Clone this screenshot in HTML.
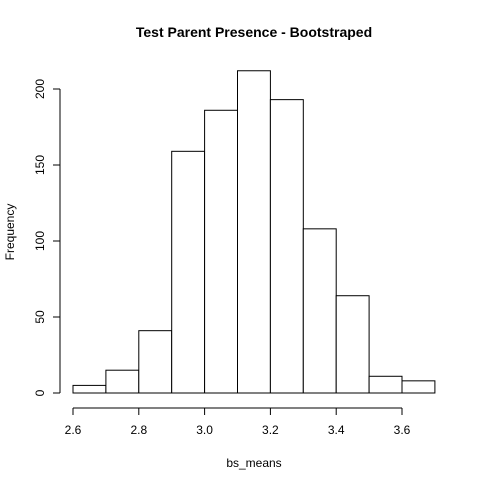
<!DOCTYPE html>
<html><head><meta charset="utf-8"><style>
html,body{margin:0;padding:0;background:#fff}
svg{display:block;font-family:"Liberation Sans",Arial,sans-serif}
</style></head><body>
<svg id="chart" width="480" height="480" viewBox="0 0 480 480">
<rect width="480" height="480" fill="#fff"/>
<text x="254" y="37" text-anchor="middle" font-size="14" font-weight="bold">Test Parent Presence - Bootstraped</text>
<text x="254" y="467" text-anchor="middle" font-size="12">bs_means</text>
<text transform="translate(14,232) rotate(-90)" text-anchor="middle" font-size="12">Frequency</text>
<g id="bars"></g><g id="xaxis"></g><g id="yaxis"></g>
</svg>
<script>
const binStarts = [2.6,2.7,2.8,2.9,3.0,3.1,3.2,3.3,3.4,3.5,3.6];
const binWidth = 0.1;
const counts = [5,15,41,159,186,212,193,108,64,11,8];
const xTicks = [2.6,2.8,3.0,3.2,3.4,3.6];
const xTickLabels = ["2.6","2.8","3.0","3.2","3.4","3.6"];
const yTicks = [0,50,100,150,200];
const yTickLabels = ["0","50","100","150","200"];
const NS="http://www.w3.org/2000/svg";
function xs(v){return 73+(v-2.6)*329;}
function ys(v){return 393-v*1.52;}
function mk(t,a,p){const e=document.createElementNS(NS,t);for(const k in a)e.setAttribute(k,a[k]);p.appendChild(e);return e;}
const bars=document.getElementById('bars');
binStarts.forEach((b,i)=>{
  const x0=xs(b),x1=xs(b+binWidth),y=ys(counts[i]);
  const r=mk('rect',{x:x0,y:y,width:x1-x0,height:ys(0)-y,fill:'#fff',stroke:'#000','stroke-width':1},bars);
  
  
});
const xa=document.getElementById('xaxis');


mk('line',{x1:xs(xTicks[0]),x2:xs(xTicks[xTicks.length-1]),y1:408,y2:408,stroke:'#000'},xa);
xTicks.forEach((t,i)=>{
  mk('line',{x1:xs(t),x2:xs(t),y1:408,y2:415,stroke:'#000'},xa);
  const tx=mk('text',{x:xs(t),y:434,'text-anchor':'middle','font-size':12},xa);
  tx.textContent=xTickLabels[i];
  
  
});
const ya=document.getElementById('yaxis');


mk('line',{x1:60,x2:60,y1:ys(yTicks[0]),y2:ys(yTicks[yTicks.length-1]),stroke:'#000'},ya);
yTicks.forEach((t,i)=>{
  mk('line',{x1:53,x2:60,y1:ys(t),y2:ys(t),stroke:'#000'},ya);
  const tx=mk('text',{transform:`translate(44,${ys(t)}) rotate(-90)`,'text-anchor':'middle','font-size':12},ya);
  tx.textContent=yTickLabels[i];
  
  
});
</script>
</body></html>
